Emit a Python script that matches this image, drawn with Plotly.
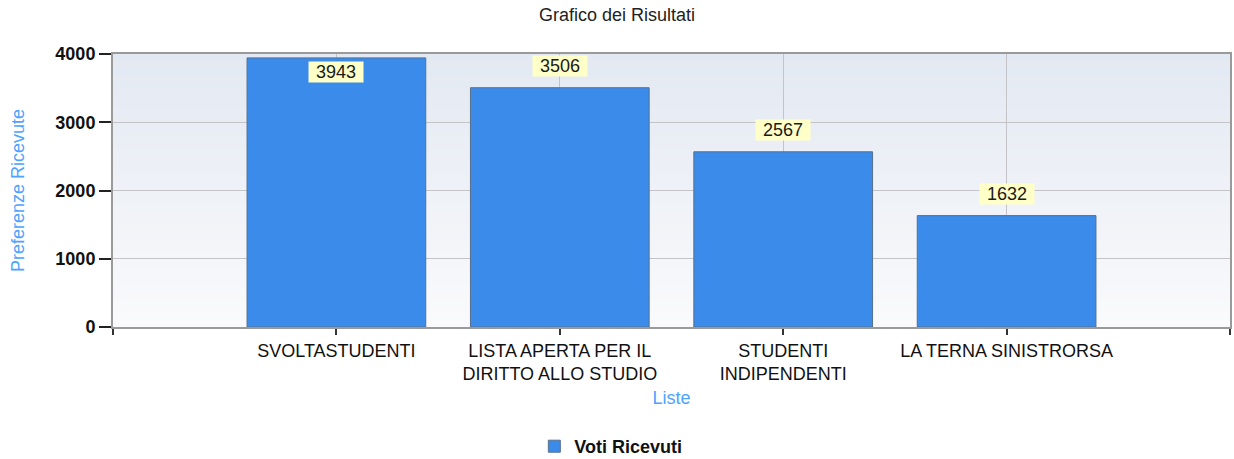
import plotly.graph_objects as go

categories = ["SVOLTASTUDENTI", "LISTA APERTA PER IL DIRITTO ALLO STUDIO",
              "STUDENTI INDIPENDENTI", "LA TERNA SINISTRORSA"]
tick_labels = ["SVOLTASTUDENTI", "LISTA APERTA PER IL<br>DIRITTO ALLO STUDIO",
               "STUDENTI<br>INDIPENDENTI", "LA TERNA SINISTRORSA"]
voti = [3943, 3506, 2567, 1632]
y_ticks = [0, 1000, 2000, 3000, 4000]

FONT = "Liberation Sans, Arial, sans-serif"
positions = [i + 1 for i in range(len(categories))]
y_max = 4000

fig = go.Figure()
fig.add_trace(go.Bar(
    x=positions, y=voti, name="Voti Ricevuti", width=0.8,
    marker=dict(color="#3B8BEB", line=dict(color="#56708C", width=1)),
    customdata=categories,
    hovertemplate="%{customdata}: %{y}<extra></extra>",
))

# data labels (yellow boxes); placed inside when there is no room above
plot_h_px = 273
for p, v in zip(positions, voti):
    px_above = (y_max - v) / y_max * plot_h_px
    inside = px_above < 20
    fig.add_annotation(
        x=p, y=v, xref="x", yref="y", text=str(v), showarrow=False,
        yanchor="top" if inside else "bottom",
        yshift=-3 if inside else 11,
        bgcolor="#FFFFC8", width=54, height=20, borderpad=0,
        font=dict(family=FONT, size=18, color="#1a1a1a"),
    )

# vertical gradient background of the plot area
n = 40
top = (227, 233, 242)
bot = (250, 250, 252)
for i in range(n):
    t = i / (n - 1)
    c = tuple(round(bot[k] + (top[k] - bot[k]) * t) for k in range(3))
    fig.add_shape(type="rect", xref="paper", yref="paper",
                  x0=0, x1=1, y0=i / n, y1=(i + 1) / n + 0.002,
                  fillcolor=f"rgb{c}", line=dict(width=0), layer="below")

fig.update_layout(
    width=1234, height=459,
    margin=dict(l=113, r=4, t=54, b=132, autoexpand=False),
    paper_bgcolor="white", plot_bgcolor="#F5F6F9",
    title=dict(text="Grafico dei Risultati", x=0.5, xref="container",
               y=1 - 15 / 459, yref="container", yanchor="middle",
               font=dict(family=FONT, size=18, color="#222222")),
    font=dict(family=FONT, size=18, color="#111111"),
    showlegend=True,
    legend=dict(orientation="h", xref="container", yref="container",
                x=0.495, xanchor="center", y=(459 - 428) / 459, yanchor="top",
                font=dict(family=FONT, size=18, color="#111111", weight="bold"),
                bgcolor="rgba(0,0,0,0)"),
    bargap=0.2,
)

fig.update_xaxes(
    automargin=False,
    range=[0, len(categories) + 1],
    tickmode="array",
    tickvals=[0] + positions + [len(categories) + 1],
    ticktext=[""] + tick_labels + [""],
    tickfont=dict(family=FONT, size=18, color="#111111"),
    ticks="outside", ticklen=6, tickwidth=2, tickcolor="#333333",
    showgrid=True, gridcolor="#C4C4C8", gridwidth=1,
    showline=True, linecolor="#9A9A9A", linewidth=2, mirror=True,
    zeroline=False,
    title=dict(text="Liste", standoff=8,
               font=dict(family=FONT, size=18, color="#4DA3FF")),
)
fig.update_yaxes(
    automargin=False,
    range=[0, y_max],
    tickmode="array", tickvals=y_ticks,
    tickfont=dict(family=FONT, size=18, color="#111111", weight="bold"),
    ticks="outside", ticklen=12, tickwidth=2, tickcolor="#222222",
    showgrid=True, gridcolor="#C4C4C8", gridwidth=1,
    showline=True, linecolor="#9A9A9A", linewidth=2, mirror=True,
    zeroline=False,
    title=dict(text="Preferenze Ricevute", standoff=26,
               font=dict(family=FONT, size=18, color="#4DA3FF")),
)

fig.write_html("out.html",
               config={"displayModeBar": False},
               post_script="document.body.style.margin='0';"
                           "document.body.style.overflow='hidden';")
